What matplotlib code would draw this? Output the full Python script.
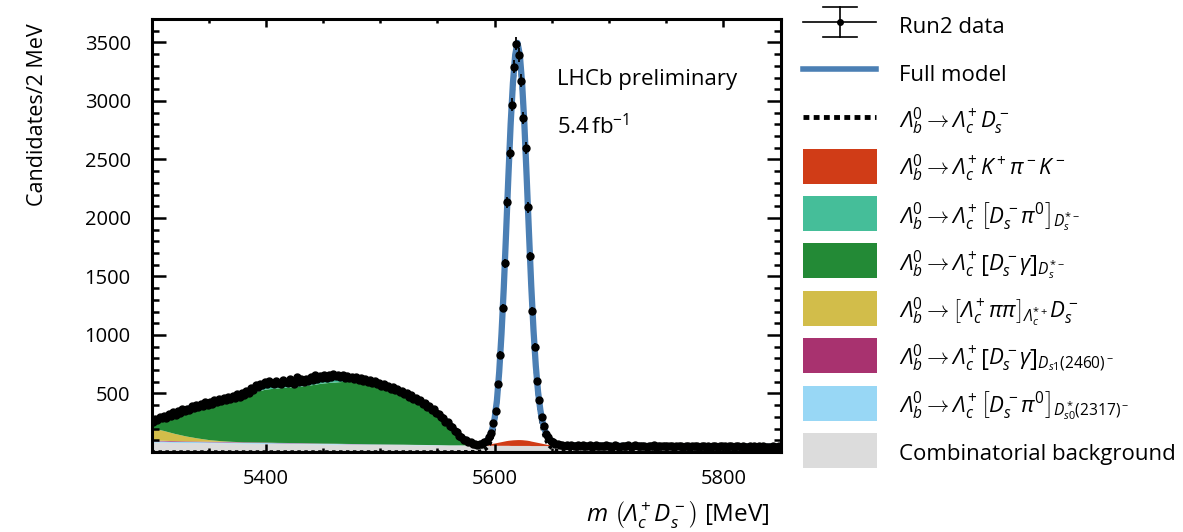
import numpy as np
import matplotlib.pyplot as plt
from matplotlib.patches import Rectangle

plt.rcParams['font.family'] = 'Open Sans'
plt.rcParams['mathtext.fontset'] = 'custom'
plt.rcParams['mathtext.rm'] = 'Open Sans'
plt.rcParams['mathtext.it'] = 'Open Sans:italic'
plt.rcParams['mathtext.sf'] = 'Open Sans:italic'   # italic capital Lambda
plt.rcParams['mathtext.bf'] = 'Open Sans:bold'

# ---- data: Run2 candidates in 2 MeV bins (5301 ... 5849) ----
mass = np.arange(5301, 5850, 2)
counts = np.array([
    252, 281, 270, 296, 287, 310, 292, 322, 309, 341, 318, 352, 331, 366, 349, 371, 358, 392, 376, 398, 381, 412, 396, 423, 404,
    431, 412, 441, 426, 452, 437, 461, 443, 470, 455, 481, 462, 494, 471, 503, 489, 522, 506, 547, 528, 571, 553, 584, 569, 598,
    580, 603, 587, 577, 609, 592, 584, 611, 596, 588, 624, 598, 583, 640, 601, 620, 596, 627, 608, 641, 615, 658, 622, 649, 631,
    655, 632, 661, 640, 668, 646, 657, 639, 662, 634, 651, 628, 645, 622, 641, 617, 629, 608, 624, 599, 611, 590, 603, 578, 589,
    568, 579, 555, 566, 541, 553, 526, 538, 510, 521, 494, 503, 472, 486, 455, 463, 432, 441, 410, 419, 387, 396, 358, 368, 331,
    326, 297, 291, 259, 255, 221, 214, 178, 169, 133, 129, 104, 106, 84, 82, 64, 72, 61, 71, 66, 85, 91, 131, 162, 251,
    352, 578, 831, 1228, 1611, 2135, 2552, 2967, 3294, 3490, 3390, 3173, 2855, 2601, 2090, 1672, 1208, 901, 610, 447, 298, 226, 151, 131, 94,
    88, 70, 71, 57, 63, 52, 60, 49, 58, 54, 47, 59, 51, 56, 48, 55, 60, 46, 53, 57, 49, 55, 50, 58, 47,
    54, 46, 57, 50, 45, 55, 49, 53, 58, 44, 51, 56, 47, 52, 49, 55, 45, 53, 50, 57, 46, 52, 48, 54, 50,
    47, 53, 49, 44, 55, 48, 51, 46, 52, 49, 43, 54, 47, 50, 45, 52, 48, 46, 53, 44, 49, 51, 45, 50, 47,
    50, 44, 48, 52, 43, 47, 49, 45, 51, 42, 46, 50, 44, 48, 43, 47, 45, 49, 42, 46, 44, 48, 43, 45, 47,
])

# ---- fit components, on a grid that is finer around the peak ----
grid = np.concatenate([np.arange(5300, 5581, 10), np.arange(5582, 5661, 2), np.arange(5670, 5851, 10)])
z40 = [0] * 40
z19 = [0] * 19

comb = np.array([85, 84, 82, 81, 80, 79, 78, 77, 76, 75, 74, 73, 72, 71, 70, 69, 68, 67, 66, 65, 65, 64, 63, 62, 62, 61, 60, 60, 59]
                + [59, 59, 59, 58, 58, 58, 58, 58, 58, 57, 57, 57, 57, 57, 57, 57, 56, 56, 56, 56,
                   56, 56, 56, 56, 56, 55, 55, 55, 55, 55, 55, 55, 55, 55, 55, 54, 54, 54, 54, 54]
                + [54, 53, 53, 52, 52, 51, 51, 50, 50, 49, 49, 48, 48, 47, 47, 46, 46, 45, 45])
ds0_2317 = np.array([10, 10, 9, 9, 9, 8, 8, 8, 7, 7, 7, 6, 6, 6, 5, 5, 5, 4, 4, 4, 3, 3, 3, 2, 2, 2, 1, 1, 0] + z40 + z19)
ds1_2460 = np.array([6, 6, 6, 5, 5, 5, 5, 4, 4, 4, 4, 3, 3, 3, 3, 2, 2, 2, 2, 1, 1, 1, 1, 1, 0, 0, 0, 0, 0] + z40 + z19)
lcstar = np.array([105, 85, 62, 42, 26, 14, 6, 2] + [0] * 21 + z40 + z19)
dstar_gamma = np.array([56, 110, 171, 225, 272, 312, 345, 375, 408, 429, 453, 466, 474, 482, 497,
                        514, 523, 532, 541, 532, 509, 477, 438, 390, 336, 267, 179, 69, 10]
                       + [7, 4, 2, 1] + [0] * 36 + z19)
dstar_pi0 = np.array([0, 0, 0, 0, 0, 0, 0, 0, 0, 30, 50, 48, 45, 44, 45, 50, 52, 40, 15, 3] + [0] * 9 + z40 + z19)
kpik = np.array([0] * 29
                + [0, 0, 1, 2, 4, 6, 9, 12, 16, 20, 24, 28, 32, 36, 40, 43, 46, 48, 49, 50,
                   50, 49, 47, 45, 42, 38, 34, 30, 26, 22, 18, 14, 10, 7, 5, 3, 2, 1, 0, 0]
                + z19)
signal = np.array([0] * 27 + [1, 2]
                  + [2, 3, 5, 8, 13, 22, 40, 70, 125, 210, 360, 600, 920, 1310, 1770, 2250, 2700, 3050, 3290, 3390,
                     3290, 3050, 2700, 2250, 1780, 1330, 950, 650, 430, 280, 180, 115, 75, 48, 30, 20, 13, 8, 5, 3]
                  + [1] + [0] * 18)

xticks = [5400, 5600, 5800]
yticks = [500, 1000, 1500, 2000, 2500, 3000, 3500]

c_blue = '#4b7fb4'
stack = [comb, ds0_2317, ds1_2460, lcstar, dstar_gamma, dstar_pi0, kpik]
stack_col = ['#dcdcdc', '#98d7f5', '#a8326f', '#d2bd4a', '#238a36', '#45be99', '#d03c17']

fig = plt.figure(figsize=(11.83, 5.32), dpi=100)
ax = fig.add_axes([0.1281, 0.1504, 0.5317, 0.8139])

base = np.zeros(len(grid))
for comp, col in zip(stack, stack_col):
    ax.fill_between(grid, base, base + comp, color=col, lw=0, zorder=1)
    base = base + comp
total = base + signal

ax.plot(grid, signal, color='k', ls=(0, (1, 1)), lw=2.5, zorder=2)
ax.plot(grid, total, color=c_blue, lw=4.5, zorder=3)
ax.errorbar(mass, counts, yerr=np.sqrt(counts), fmt='o', ms=5, color='k',
            elinewidth=1.3, capsize=0, zorder=4)

ax.set_xlim(5300, 5850)
ax.set_ylim(0, 3700)
ax.set_xticks(xticks)
ax.set_xticks(np.arange(5300, 5851, 50), minor=True)
ax.set_yticks(yticks)
ax.set_yticks(np.arange(0, 3701, 100), minor=True)
ax.tick_params(which='both', direction='in', top=True, right=True, width=1.8, labelsize=14.5)
ax.tick_params(axis='x', which='major', length=6, pad=12)
ax.tick_params(axis='x', which='minor', length=3)
ax.tick_params(axis='y', which='major', length=10, pad=15)
ax.tick_params(axis='y', which='minor', length=5)
for s in ax.spines.values():
    s.set_linewidth(2.2)

fig.text(38 / 1183, 1 - 115 / 532, 'Candidates/2 MeV', rotation=90, ha='center', va='center', fontsize=15.5)
fig.text(770 / 1183, 1 - 514 / 532, r'$m\ \left(\mathsf{\Lambda}_c^+ D_s^-\right)$ [MeV]',
         ha='right', va='center', fontsize=17.5)
fig.text(557 / 1183, 1 - 80 / 532, 'LHCb preliminary', va='center', fontsize=16)
fig.text(557 / 1183, 1 - 127 / 532, r'5.4$\,$fb$^{-1}$', va='center', fontsize=16)

# ---- legend, drawn by hand in pixel coordinates ----
lax = fig.add_axes([0, 0, 1, 1])
lax.set_xlim(0, 1183)
lax.set_ylim(532, 0)
lax.axis('off')

labels = [
    'Run2 data',
    'Full model',
    r'$\mathsf{\Lambda}_b^0 \rightarrow \mathsf{\Lambda}_c^+ D_s^-$',
    r'$\mathsf{\Lambda}_b^0 \rightarrow \mathsf{\Lambda}_c^+ K^+ \pi^- K^-$',
    r'$\mathsf{\Lambda}_b^0 \rightarrow \mathsf{\Lambda}_c^+ \left[D_s^- \pi^0\right]_{D_s^{*-}}$',
    r'$\mathsf{\Lambda}_b^0 \rightarrow \mathsf{\Lambda}_c^+ \left[D_s^- \gamma\right]_{D_s^{*-}}$',
    r'$\mathsf{\Lambda}_b^0 \rightarrow \left[\mathsf{\Lambda}_c^+ \pi\pi\right]_{\mathsf{\Lambda}_c^{*+}} D_s^-$',
    r'$\mathsf{\Lambda}_b^0 \rightarrow \mathsf{\Lambda}_c^+ \left[D_s^- \gamma\right]_{D_{s1}(2460)^-}$',
    r'$\mathsf{\Lambda}_b^0 \rightarrow \mathsf{\Lambda}_c^+ \left[D_s^- \pi^0\right]_{D_{s0}^*(2317)^-}$',
    'Combinatorial background',
]
patch_col = ['#d03c17', '#45be99', '#238a36', '#d2bd4a', '#a8326f', '#98d7f5', '#dcdcdc']

for i, lab in enumerate(labels):
    yc = 23.8 + 47.4 * i
    if i == 0:
        lax.plot([803, 876], [yc - 2, yc - 2], color='k', lw=1.2)
        lax.plot([840, 840], [yc - 17, yc + 13], color='k', lw=1.2)
        lax.plot([823, 857], [yc - 17, yc - 17], color='k', lw=1.2)
        lax.plot([823, 857], [yc + 13, yc + 13], color='k', lw=1.2)
        lax.plot([840], [yc - 2], 'o', color='k', ms=4)
    elif i == 1:
        lax.plot([803, 876], [yc - 2, yc - 2], color=c_blue, lw=4)
    elif i == 2:
        lax.plot([803, 876], [yc - 2, yc - 2], color='k', lw=3.5, ls=(0, (1.2, 0.9)))
    else:
        lax.add_patch(Rectangle((803, yc - 17.5), 74, 35, color=patch_col[i - 3], lw=0))
    lax.text(899, yc + 9.5, lab, va='baseline', ha='left', fontsize=16)

fig.savefig('out.png', dpi=100)
